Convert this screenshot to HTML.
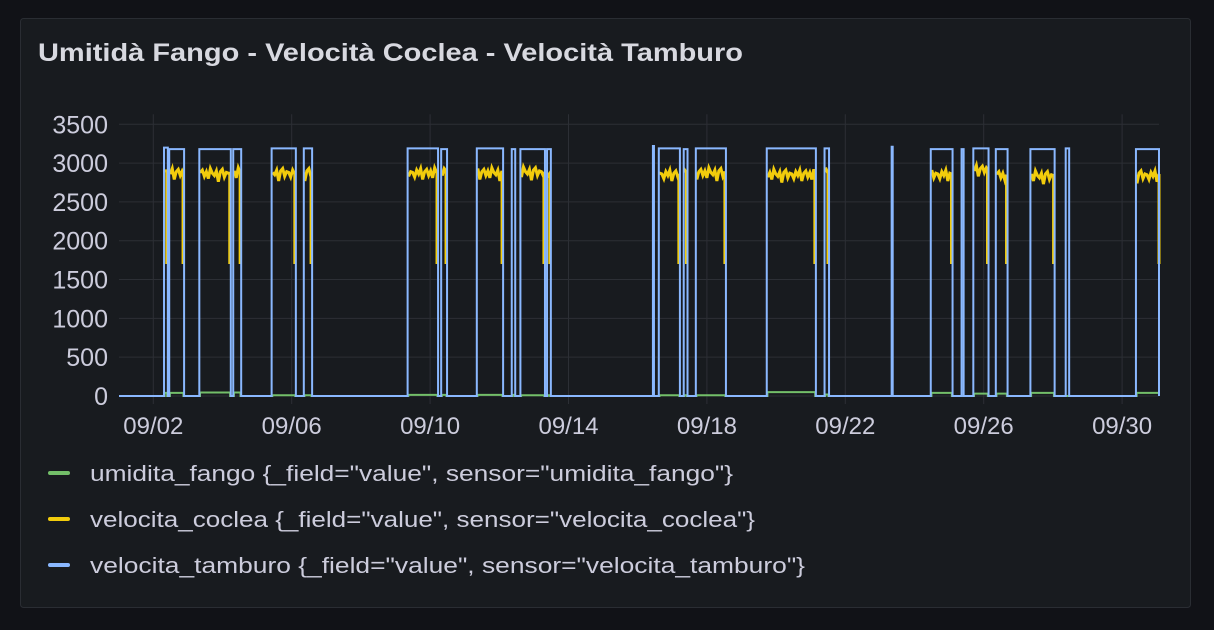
<!DOCTYPE html>
<html><head><meta charset="utf-8"><style>
html,body{margin:0;padding:0;background:#111217;width:1214px;height:630px;overflow:hidden}
svg{display:block;font-family:"Liberation Sans",sans-serif}
</style></head><body>
<svg id="chart" width="1214" height="630">
<rect x="20.5" y="18.5" width="1170" height="589" rx="3" fill="#181b1f" stroke="#2a2d33"/>
<text x="38" y="61" fill="#d8d9e0" font-size="25" font-weight="bold" textLength="705" lengthAdjust="spacingAndGlyphs">Umitidà Fango - Velocità Coclea - Velocità Tamburo</text>
<g id="grid"></g><g id="series"></g><g id="axes"></g><g id="legend"></g>
</svg>
<script>
const yTicks=[0,500,1000,1500,2000,2500,3000,3500];
const xTickDays=[2,6,10,14,18,22,26,30];
const xTickLabels=["09/02","09/06","09/10","09/14","09/18","09/22","09/26","09/30"];
const tamburoRuns=[[2.31,2.42],[2.46,2.89],[3.33,4.24],[4.31,4.54],[5.42,6.12],[6.35,6.59],[9.35,10.23],[10.32,10.49],[11.35,12.11],[12.36,12.46],[12.61,13.32],[13.38,13.49],[16.44,16.47],[16.61,17.22],[17.33,17.44],[17.68,18.55],[19.73,21.15],[21.40,21.53],[23.34,23.37],[24.47,25.10],[25.36,25.42],[25.70,26.14],[26.35,26.69],[27.35,28.05],[28.37,28.47],[30.40,31.2]];
const tamburoLevel=[3200,3180,3180,3180,3190,3190,3190,3180,3190,3180,3180,3180,3220,3190,3180,3190,3190,3190,3210,3180,3180,3190,3180,3180,3190,3180];
const cocleaLevel=[2900,2880,2870,2880,2880,2880,2880,2900,2880,0,2890,2870,0,2860,2880,2880,2860,2880,0,2860,0,2920,2850,2840,0,2850];
const cocleaJitter=[0,-60,30,-20,50,-90,10,40,-40,20,-70,60,0,-30,30,-110,20,50,-50,10];
const umiditaLevel=[40,40,45,45,10,10,15,15,15,15,10,10,0,10,10,10,50,20,0,40,0,30,30,40,0,40];
const legendNames=['umidita_fango {_field="value", sensor="umidita_fango"}','velocita_coclea {_field="value", sensor="velocita_coclea"}','velocita_tamburo {_field="value", sensor="velocita_tamburo"}'];
const legendColors=["#73bf69","#f2cc0c","#8ab8ff"];

const NS="http://www.w3.org/2000/svg";
const X0=119,X1=1159,Y0=396,Y1=124.3;
const legendWidths=[643,665,715];
const xs=d=>153.3+(d-2)*34.6;
const ys=v=>Y0-(v/3500)*(Y0-Y1);
function mk(tag,attrs,parent,txt){const e=document.createElementNS(NS,tag);for(const k in attrs)e.setAttribute(k,attrs[k]);if(txt!==undefined)e.textContent=txt;parent.appendChild(e);return e;}
const grid=document.getElementById('grid'),series=document.getElementById('series'),axes=document.getElementById('axes'),legend=document.getElementById('legend');
yTicks.forEach(v=>{
  const l=mk('line',{x1:X0,x2:X1,y1:ys(v),y2:ys(v),stroke:'#2c2f35','stroke-width':1},grid);
  
  
  const t=mk('text',{x:108,y:ys(v)+9,fill:'#ccccdc','font-size':25,'text-anchor':'end'},axes,String(v));
  
  
});
xTickDays.forEach((d,i)=>{
  const l=mk('line',{x1:xs(d),x2:xs(d),y1:Y1-10,y2:Y0+8,stroke:'#2c2f35','stroke-width':1},grid);
  
  
  const t=mk('text',{x:xs(d),y:434,fill:'#ccccdc','font-size':24,'text-anchor':'middle'},axes,xTickLabels[i]);
  
  
});
function stepPath(levels,inset,drop){
  let p='M'+X0+','+Y0;
  tamburoRuns.forEach((r,i)=>{
    const v=levels[i]; if(!v)return;
    const a=xs(r[0]+inset),b=Math.min(xs(r[1]-inset),X1);
    p+=' L'+a+','+Y0+' L'+a+','+ys(v);
    p+=' L'+b+','+ys(v);
    if(drop){p+=' L'+b+','+ys(drop)+' L'+(b+1)+','+Y0;} else p+=' L'+b+','+Y0;
  });
  p+=' L'+X1+','+Y0;return p;
}
function jitterPath(){
  let p='';
  tamburoRuns.forEach((r,i)=>{
    const v=cocleaLevel[i]; if(!v)return;
    const a=xs(r[0]+0.03),b=Math.min(xs(r[1]-0.03),X1);
    let k=0;p+=' M'+a+','+ys(v);
    for(let x=a;x<b;x+=2){p+=' L'+x+','+ys(v+cocleaJitter[(k+i*3)%cocleaJitter.length]);k++;}
    p+=' L'+b+','+ys(v)+' L'+b+','+ys(1700);
  });
  return p;
}
const g=mk('path',{d:stepPath(umiditaLevel,0.02,0),fill:'none',stroke:'#73bf69','stroke-width':2},series);


const yb=mk('path',{d:jitterPath(),fill:'none',stroke:'#f2cc0c','stroke-width':3},series);


const bl=mk('path',{d:stepPath(tamburoLevel,0,0),fill:'none',stroke:'#8ab8ff','stroke-width':2},series);


legendNames.forEach((n,i)=>{
  const y=473+i*46;
  const r=mk('rect',{x:48,y:y-2,width:22,height:4,rx:2,fill:legendColors[i]},legend);
  
  
  const t=mk('text',{x:90,y:y+8,fill:'#ccccdc','font-size':22,textLength:legendWidths[i],lengthAdjust:'spacingAndGlyphs'},legend,n);
  
  
});
</script>
</body></html>
